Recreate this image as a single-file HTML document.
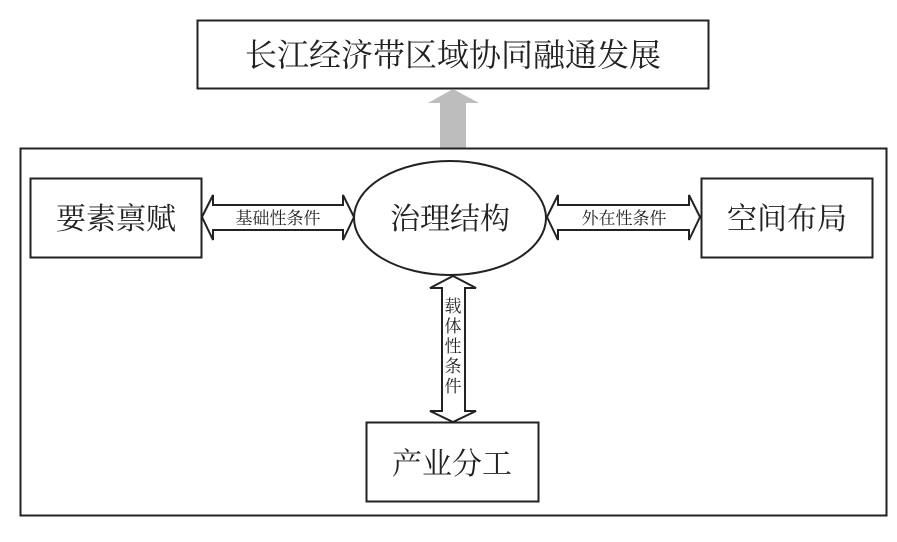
<!DOCTYPE html>
<html><head><meta charset="utf-8"><style>
html,body{margin:0;padding:0;background:#fff;}
svg{display:block}
text{font-family:"Liberation Serif","Noto Serif CJK SC",serif;fill:#222}
</style></head><body>
<svg width="897" height="542" viewBox="0 0 897 542">
<rect x="197.5" y="20.5" width="511" height="68" fill="#fff" stroke="#222" stroke-width="2"/>
<text x="453" y="66" font-size="32" text-anchor="middle">长江经济带区域协同融通发展</text>
<polygon points="453,89 479,103 466,103 466,148 440,148 440,103 428,103" fill="#bdbdbd"/>
<rect x="20.5" y="148.5" width="866" height="367" fill="none" stroke="#222" stroke-width="2"/>
<rect x="30.5" y="178.5" width="171" height="79" fill="#fff" stroke="#222" stroke-width="2"/>
<text x="116" y="229" font-size="30" text-anchor="middle">要素禀赋</text>
<rect x="701.5" y="178.5" width="171" height="79" fill="#fff" stroke="#222" stroke-width="2"/>
<text x="787" y="229" font-size="30" text-anchor="middle">空间布局</text>
<rect x="366.5" y="422.5" width="172" height="79" fill="#fff" stroke="#222" stroke-width="2"/>
<text x="452" y="474" font-size="30" text-anchor="middle">产业分工</text>
<ellipse cx="450" cy="218" rx="96" ry="57" fill="#fff" stroke="#222" stroke-width="2"/>
<text x="450" y="229" font-size="30" text-anchor="middle">治理结构</text>
<polygon points="202,217 213,195 213,205 343,205 343,195 354,217 343,240 343,230 213,230 213,240" fill="#fff" stroke="#222" stroke-width="2"/>
<text x="278" y="224" font-size="17" text-anchor="middle">基础性条件</text>
<polygon points="547,217 558,195 558,205 689,205 689,195 700,217 689,240 689,230 558,230 558,240" fill="#fff" stroke="#222" stroke-width="2"/>
<text x="624" y="224" font-size="17" text-anchor="middle">外在性条件</text>
<polygon points="453,276 476,288 465,288 465,411 476,411 453,422 430,411 442,411 442,288 430,288" fill="#fff" stroke="#222" stroke-width="2"/>
<g font-size="17" text-anchor="middle">
<text x="453" y="312">载</text><text x="453" y="332">体</text><text x="453" y="352">性</text><text x="453" y="372">条</text><text x="453" y="392">件</text>
</g>
</svg>
</body></html>
